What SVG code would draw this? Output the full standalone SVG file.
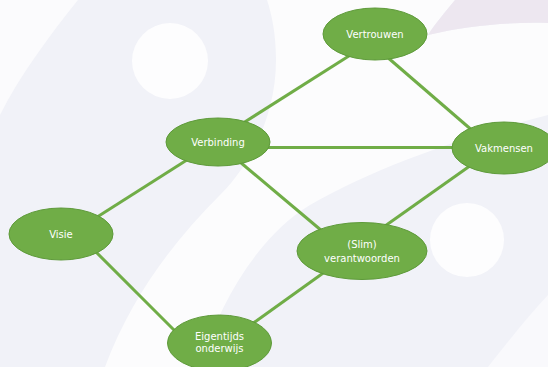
<svg xmlns="http://www.w3.org/2000/svg" width="548" height="367" viewBox="0 0 548 367">
  <style>
    .edge { stroke: #70ad47; stroke-width: 3; fill: none; stroke-linecap: butt; }
    .node ellipse { fill: #70ad47; stroke: #5e9a3a; stroke-width: 1; }
    .node text { fill: #ffffff; font-family: "DejaVu Sans", Verdana, sans-serif; font-size: 10px; text-anchor: middle; }
  </style>
  <g id="background">
    <rect x="0" y="0" width="548" height="367" fill="#f1f2f8"/>
    <path d="M0,0 L78,0 C50,35 20,75 0,115 Z" fill="#fbfbfd"/>
    <path d="M267,0 L455,0 C445,12 435,24 428,35 C470,25 510,22 548,23 L548,115 C470,135 380,165 310,205 C260,235 220,300 200,367 L105,367 C130,300 170,245 220,195 C255,160 276,110 276,60 C276,35 272,15 267,0 Z" fill="#fcfcfd"/>
    <path d="M455,0 L548,0 L548,23 C510,22 470,25 428,35 C435,24 445,12 455,0 Z" fill="#ede7f0"/>
    <path d="M548,295 C525,320 505,345 488,367 L548,367 Z" fill="#f9f9fc"/>
    <circle cx="170" cy="61" r="38" fill="#fdfdfe"/>
    <circle cx="467" cy="240" r="37" fill="#fdfdfe"/>
  </g>
  <g id="connectors">
    <line class="edge" x1="240" y1="125" x2="352" y2="54"/>
    <line class="edge" x1="386" y1="56" x2="474" y2="132"/>
    <line class="edge" x1="265" y1="147.5" x2="456" y2="147.5"/>
    <line class="edge" x1="240" y1="162" x2="322" y2="231"/>
    <line class="edge" x1="474" y1="163" x2="385" y2="226"/>
    <line class="edge" x1="190" y1="158" x2="94" y2="219"/>
    <line class="edge" x1="92" y1="248" x2="176" y2="332"/>
    <line class="edge" x1="326" y1="271" x2="252" y2="324"/>
  </g>
  <g id="vertrouwen" class="node">
    <ellipse cx="375" cy="34" rx="52" ry="26"/>
    <text x="375" y="38">Vertrouwen</text>
  </g>
  <g id="verbinding" class="node">
    <ellipse cx="218" cy="142" rx="52" ry="24"/>
    <text x="218" y="146">Verbinding</text>
  </g>
  <g id="vakmensen" class="node">
    <ellipse cx="504" cy="148" rx="52" ry="26"/>
    <text x="504" y="152">Vakmensen</text>
  </g>
  <g id="visie" class="node">
    <ellipse cx="61" cy="234" rx="52" ry="26"/>
    <text x="61" y="238">Visie</text>
  </g>
  <g id="slim-verantwoorden" class="node">
    <ellipse cx="362" cy="251" rx="65" ry="28.5"/>
    <text x="362" y="248">(Slim)</text>
    <text x="362" y="262">verantwoorden</text>
  </g>
  <g id="eigentijds-onderwijs" class="node">
    <ellipse cx="219.5" cy="343" rx="52" ry="28"/>
    <text x="219.5" y="339.5">Eigentijds</text>
    <text x="219.5" y="352">onderwijs</text>
  </g>
</svg>
